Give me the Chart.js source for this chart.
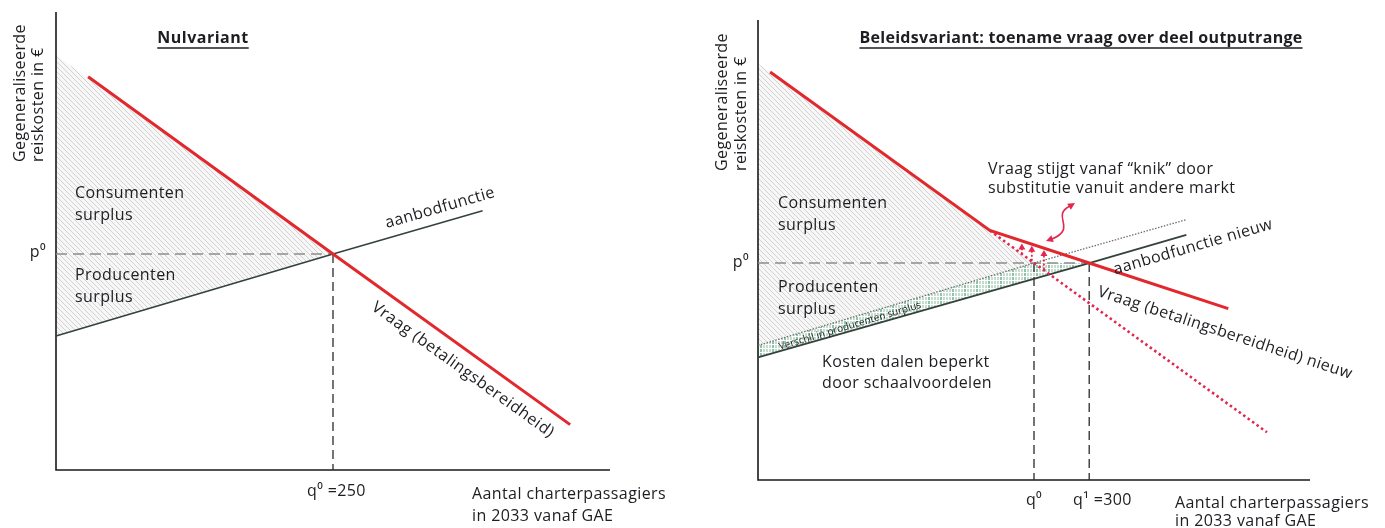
<!DOCTYPE html>
<html>
<head>
<meta charset="utf-8">
<script src="https://cdn.jsdelivr.net/npm/chart.js@4.4.0/dist/chart.umd.min.js"></script>
<style>
  html, body { margin: 0; padding: 0; background: #fff; }
  #wrap { position: relative; width: 1385px; height: 528px; }
  canvas { position: absolute; left: 0; top: 0; }
</style>
</head>
<body>
<div id="wrap">
  <canvas id="nul" width="1385" height="528"></canvas>
  <canvas id="beleid" width="1385" height="528"></canvas>
</div>
<script>
/* globals Chart:false */
(function () {
  'use strict'

  // assen: aantal passagiers (q) en gegeneraliseerde kosten (p)
  var qBereik = [0, 500]
  var pBereik = [0, 212]
  var q0 = 250
  var q1 = 300
  var p0 = 100

  // nulvariant
  var vraagQ = [29, 250, 464]
  var vraagP = [182, 100, 21]
  var aanbodQ = [0, 250, 385]
  var aanbodP = [62, 100, 120]
  var surplusQ = [0, 250, 0]
  var surplusP = [192, 100, 62]

  // beleidsvariant
  var vraagNieuwQ = [11, 210, 300, 426]
  var vraagNieuwP = [188, 115, 100, 79]
  var vraagOudQ = [210, 250, 461]
  var vraagOudP = [115, 100, 22]
  var aanbodOudQ = [0, 250, 388]
  var aanbodOudP = [62, 100, 120]
  var aanbodNieuwQ = [0, 300, 388]
  var aanbodNieuwP = [56.5, 100, 113]
  var surplus2Q = [0, 210, 250, 0]
  var surplus2P = [192, 115, 100, 62]
  var verschilQ = [0, 250, 300, 0]
  var verschilP = [62, 100, 100, 56.5]
  var pijlQ = [239, 248, 259]
  var pijlVan = [104, 101, 97]
  var pijlTot = [109, 108, 106]

  var FONT = '"Open Sans", sans-serif'
  var ROOD = '#e2282d'
  var ROOD_STIP = '#e3264d'
  var AANBOD = '#33433c'
  var TEKST = '#1d1d22'

  function pts (qs, ps) {
    return qs.map(function (q, i) { return { x: q, y: ps[i] } })
  }

  function lijn (data, kleur, dikte, streep) {
    return {
      data: data,
      borderColor: kleur,
      borderWidth: dikte,
      borderDash: streep || [],
      pointRadius: 0,
      fill: false,
      tension: 0,
      clip: false
    }
  }

  function vlak (data, patroon) {
    return {
      data: data,
      borderWidth: 0,
      borderColor: 'rgba(0,0,0,0)',
      backgroundColor: patroon,
      pointRadius: 0,
      fill: 'shape',
      tension: 0
    }
  }

  function arcering () {
    var c = document.createElement('canvas')
    var s = 5
    c.width = s
    c.height = s
    var g = c.getContext('2d')
    g.fillStyle = '#f7f7f7'
    g.fillRect(0, 0, s, s)
    g.strokeStyle = '#d2d2d2'
    g.lineWidth = 1
    ;[-s, 0, s].forEach(function (o) {
      g.beginPath()
      g.moveTo(o, 0)
      g.lineTo(o + s, s)
      g.stroke()
    })
    return g.createPattern(c, 'repeat')
  }

  function groenRaster () {
    var c = document.createElement('canvas')
    c.width = 12
    c.height = 4
    var g = c.getContext('2d')
    g.fillStyle = '#c4ddcf'
    g.fillRect(0, 0, 12, 4)
    g.fillStyle = '#8fc4a6'
    g.fillRect(4, 1, 3, 3)
    g.fillStyle = '#ffffff'
    for (var i = 0; i < 12; i += 3) g.fillRect(i, 0, 1, 4)
    g.fillRect(0, 0, 12, 1)
    return g.createPattern(c, 'repeat')
  }

  function tekst (ctx, s, x, y, opt) {
    opt = opt || {}
    ctx.save()
    ctx.font = (opt.bold ? 'bold ' : '') + (opt.size || 16) + 'px ' + FONT
    ctx.fillStyle = opt.kleur || TEKST
    ctx.textAlign = opt.align || 'left'
    ctx.textBaseline = 'middle'
    if ('letterSpacing' in ctx) ctx.letterSpacing = (opt.spacing !== undefined ? opt.spacing : 0.4) + 'px'
    ctx.translate(x, y)
    if (opt.rot) ctx.rotate(opt.rot)
    ctx.fillText(s, 0, 0)
    if (opt.onderstreept) {
      var w = ctx.measureText(s).width
      ctx.strokeStyle = ctx.fillStyle
      ctx.lineWidth = 1.4
      ctx.beginPath()
      ctx.moveTo(-w / 2, 10)
      ctx.lineTo(w / 2, 10)
      ctx.stroke()
    }
    ctx.restore()
  }

  function hoek (chart, qa, pa, qb, pb) {
    var sx = chart.scales.x
    var sy = chart.scales.y
    return Math.atan2(sy.getPixelForValue(pb) - sy.getPixelForValue(pa),
      sx.getPixelForValue(qb) - sx.getPixelForValue(qa))
  }

  function pijlpunt (ctx, x, y, a, kleur, l, b) {
    ctx.save()
    ctx.translate(x, y)
    ctx.rotate(a)
    ctx.fillStyle = kleur
    ctx.beginPath()
    ctx.moveTo(0, 0)
    ctx.lineTo(-l, -b)
    ctx.lineTo(-l, b)
    ctx.closePath()
    ctx.fill()
    ctx.restore()
  }

  function opties (pad) {
    return {
      responsive: false,
      animation: false,
      devicePixelRatio: 1,
      layout: { padding: pad },
      plugins: { legend: { display: false }, tooltip: { enabled: false } },
      scales: {
        x: { type: 'linear', min: qBereik[0], max: qBereik[1], display: false },
        y: { type: 'linear', min: pBereik[0], max: pBereik[1], display: false }
      },
      elements: { line: { borderCapStyle: 'butt' } }
    }
  }

  function tekstPlugin (teken) {
    return {
      id: 'teksten',
      afterDatasetsDraw: function (chart) { teken(chart, chart.ctx) }
    }
  }

  var assen = pts([qBereik[0], qBereik[0], qBereik[1]], [pBereik[1], pBereik[0], pBereik[0]])

  // ---------- Nulvariant ----------
  new Chart(document.getElementById('nul'), {
    type: 'line',
    data: {
      datasets: [
        lijn(pts(vraagQ, vraagP), ROOD, 3),
        lijn(pts(aanbodQ, aanbodP), AANBOD, 1.6),
        lijn(pts([qBereik[0], q0], [p0, p0]), '#8d8d8d', 1.5, [11, 6]),
        lijn(pts([q0, q0], [p0, pBereik[0]]), '#2a2a2a', 1.3, [9, 5]),
        lijn(assen, '#1a1a1a', 1.6),
        vlak(pts(surplusQ, surplusP), arcering())
      ]
    },
    options: opties({ left: 56, top: 12, right: 775, bottom: 58 }),
    plugins: [tekstPlugin(function (chart, ctx) {
      tekst(ctx, 'Nulvariant', 203, 38, { bold: true, size: 16, align: 'center', onderstreept: true, spacing: 0.5 })
      tekst(ctx, 'Gegeneraliseerde', 20, 162, { rot: -Math.PI / 2 })
      tekst(ctx, 'reiskosten in \u20ac', 38, 162, { rot: -Math.PI / 2 })
      tekst(ctx, 'Consumenten', 75, 193)
      tekst(ctx, 'surplus', 75, 215)
      tekst(ctx, 'Producenten', 75, 275)
      tekst(ctx, 'surplus', 75, 297)
      tekst(ctx, 'p\u2070', 46, 252, { align: 'right' })
      tekst(ctx, 'aanbodfunctie', 440, 208, { align: 'center', rot: hoek(chart, aanbodQ[1], aanbodP[1], aanbodQ[2], aanbodP[2]) })
      tekst(ctx, 'Vraag (betalingsbereidheid)', 463, 370, { align: 'center', spacing: 0.6, rot: hoek(chart, vraagQ[1], vraagP[1], vraagQ[2], vraagP[2]) })
      tekst(ctx, 'q\u2070 =250', 307, 491)
      tekst(ctx, 'Aantal charterpassagiers', 472, 494)
      tekst(ctx, 'in 2033 vanaf GAE', 472, 516)
    })]
  })

  // ---------- Beleidsvariant ----------
  var pijlSets = pijlQ.map(function (q, i) {
    return lijn(pts([q, q], [pijlVan[i], pijlTot[i] - 2]), ROOD_STIP, 1.8, [2, 2])
  })

  new Chart(document.getElementById('beleid'), {
    type: 'line',
    data: {
      datasets: [
        lijn(pts(vraagNieuwQ, vraagNieuwP), ROOD, 3),
        lijn(pts(vraagOudQ, vraagOudP), ROOD_STIP, 2.6, [2.5, 3])
      ].concat(pijlSets).concat([
        lijn(pts(aanbodNieuwQ, aanbodNieuwP), AANBOD, 1.8),
        lijn(pts(aanbodOudQ, aanbodOudP), '#6f6f6f', 1.3, [1.5, 1.5]),
        lijn(pts([qBereik[0], q1], [p0, p0]), '#8d8d8d', 1.5, [11, 6]),
        lijn(pts([q0, q0], [p0, pBereik[0]]), '#2a2a2a', 1.3, [9, 5]),
        lijn(pts([q1, q1], [p0, pBereik[0]]), '#2a2a2a', 1.3, [9, 5]),
        lijn(assen, '#1a1a1a', 1.6),
        vlak(pts(verschilQ, verschilP), groenRaster()),
        vlak(pts(surplus2Q, surplus2P), arcering())
      ])
    },
    options: opties({ left: 758, top: 20, right: 75, bottom: 48 }),
    plugins: [tekstPlugin(function (chart, ctx) {
      var sx = chart.scales.x
      var sy = chart.scales.y
      pijlQ.forEach(function (q, i) {
        pijlpunt(ctx, sx.getPixelForValue(q), sy.getPixelForValue(pijlTot[i]), -Math.PI / 2, ROOD_STIP, 6, 3.5)
      })
      // golvende dubbele pijl
      ctx.save()
      ctx.strokeStyle = ROOD_STIP
      ctx.lineWidth = 1.6
      ctx.beginPath()
      ctx.moveTo(1070, 206)
      ctx.bezierCurveTo(1050, 216, 1078, 228, 1052, 239)
      ctx.stroke()
      ctx.restore()
      pijlpunt(ctx, 1075, 203, -0.55, ROOD_STIP, 7, 3.5)
      pijlpunt(ctx, 1046, 241, Math.PI - 0.35, ROOD_STIP, 7, 3.5)

      tekst(ctx, 'Beleidsvariant: toename vraag over deel outputrange', 1081, 38, { bold: true, size: 16, align: 'center', onderstreept: true, spacing: 0.3 })
      tekst(ctx, 'Gegeneraliseerde', 722, 171, { rot: -Math.PI / 2 })
      tekst(ctx, 'reiskosten in \u20ac', 741, 171, { rot: -Math.PI / 2 })
      tekst(ctx, 'Consumenten', 778, 203)
      tekst(ctx, 'surplus', 778, 225)
      tekst(ctx, 'Producenten', 778, 287)
      tekst(ctx, 'surplus', 778, 309)
      tekst(ctx, 'p\u2070', 749, 262, { align: 'right' })
      tekst(ctx, 'Vraag stijgt vanaf \u201cknik\u201d door', 988, 169)
      tekst(ctx, 'substitutie vanuit andere markt', 988, 188)
      tekst(ctx, 'aanbodfunctie nieuw', 1193, 247, { align: 'center', rot: hoek(chart, aanbodNieuwQ[1], aanbodNieuwP[1], aanbodNieuwQ[2], aanbodNieuwP[2]) })
      tekst(ctx, 'Vraag (betalingsbereidheid) nieuw', 1225, 333, { align: 'center', rot: hoek(chart, vraagNieuwQ[2], vraagNieuwP[2], vraagNieuwQ[3], vraagNieuwP[3]) })
      tekst(ctx, 'Verschil in producenten surplus', 850, 326, { align: 'center', size: 10, spacing: 0, rot: hoek(chart, aanbodOudQ[0], aanbodOudP[0], aanbodOudQ[1], aanbodOudP[1]) })
      tekst(ctx, 'Kosten dalen beperkt', 822, 362)
      tekst(ctx, 'door schaalvoordelen', 822, 383)
      tekst(ctx, 'q\u2070', 1034, 500, { align: 'center' })
      tekst(ctx, 'q\u00b9 =300', 1073, 500)
      tekst(ctx, 'Aantal charterpassagiers', 1175, 503)
      tekst(ctx, 'in 2033 vanaf GAE', 1175, 521)
    })]
  })
}())
</script>
</body>
</html>
